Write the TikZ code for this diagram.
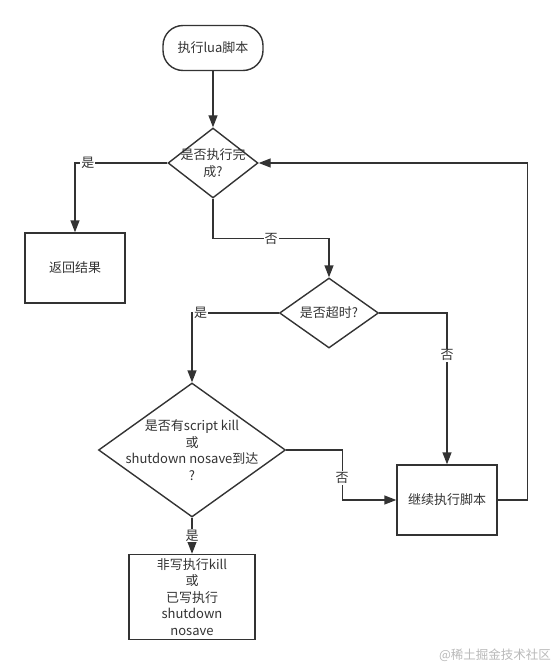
\documentclass[tikz,border=0pt]{standalone}
\usepackage{fontspec}
\setmainfont{Noto Sans CJK SC}
\usepackage{xcolor}
\usepackage{tikz}
\usetikzlibrary{arrows.meta,shapes.geometric}
\definecolor{ink}{HTML}{333333}

\begin{document}
\begin{tikzpicture}[
  x=1pt, y=-1pt,
  term/.style={draw=ink, line width=1.4pt, rounded corners=20pt, minimum width=100pt,
               minimum height=45pt, font=\fontsize{13}{16}\selectfont, text=ink},
  box/.style={draw=ink, line width=1.4pt, minimum width=100pt, minimum height=70pt,
              align=center, font=\fontsize{13}{16.5}\selectfont, text=ink},
  dia/.style={diamond, draw=ink, line width=1.4pt, inner sep=0pt},
  txt/.style={align=center, font=\fontsize{13}{16.5}\selectfont, text=ink},
  arr/.style={-{Triangle[length=12pt,width=9pt]}, draw=ink, line width=1.4pt},
  note/.style={fill=white, inner sep=1pt, font=\fontsize{13}{16}\selectfont, text=ink}
]
  \useasboundingbox (0,0) rectangle (551,666);

  \node[term] (start) at (213,48) {执行lua脚本};
  \node[dia, minimum width=90pt, minimum height=70pt] (chk1) at (213,163) {};
  \node[txt] (chk1t) at (chk1) {是否执行完\\成?};
  \node[box] (res) at (75,268) {返回结果};
  \node[dia, minimum width=99pt, minimum height=70pt] (chk2) at (329,313) {};
  \node[txt] (chk2t) at (chk2) {是否超时?};
  \node[dia, minimum width=187pt, minimum height=134pt] (chk3) at (192,450) {};
  \node[txt] (chk3t) at (chk3) {是否有script kill\\或\\shutdown nosave到达\\?};
  \node[box] (cont) at (447,500) {继续执行脚本};
  \node[box, minimum width=126pt, minimum height=85pt] (act) at (192,597)
        {非写执行kill\\或\\已写执行\\shutdown\\nosave};

  \draw[arr] (start) -- (chk1);
  \draw[arr] (chk1.west) -| node[pos=0.43, note] {是} (res);
  \draw[arr] (chk1.south) -- ++(0,40) -| node[pos=0.25, note] {否} (chk2.north);
  \draw[arr] (chk2.west) -| node[pos=0.45, note] {是} (chk3.north);
  \draw[arr] (chk2.east) -| node[pos=0.64, note] {否} (cont.north);
  \draw[arr] (chk3.east) -- ++(56,0) |- node[pos=0.28, note] {否} (cont.west);
  \draw[arr] (cont.east) -- ++(30,0) |- (chk1.east);
  \draw[arr] (chk3.south) -- node[pos=0.5, note] {是} (act.north);

  \node[font=\fontsize{12.5}{15}\selectfont, text=gray!55] (mark) at (495,655) {@稀土掘金技术社区};
\end{tikzpicture}
\end{document}
